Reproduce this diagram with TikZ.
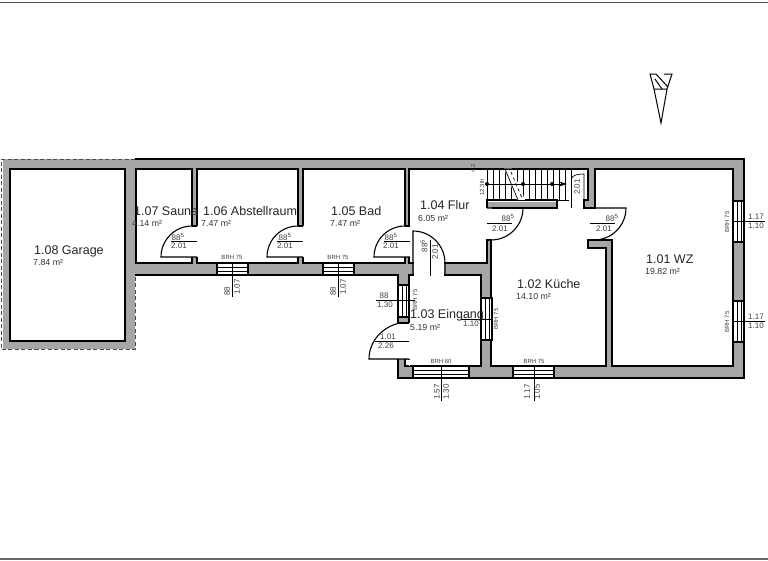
\documentclass[tikz,border=0pt]{standalone}
\usepackage{fontspec}
\setmainfont{Liberation Sans}
\usetikzlibrary{arrows.meta}
\definecolor{wallgrey}{HTML}{A6A6A6}
\tikzset{
    wall/.style={line width=1.1pt, draw=black},
    thinline/.style={line width=0.7pt, draw=black},
    room/.style={anchor=west, inner sep=0pt, text=black!85, font=\fontsize{12.5}{14}\selectfont},
    area/.style={anchor=west, inner sep=0pt, text=black!80, font=\fontsize{8.8}{10}\selectfont},
    dimtext/.style={inner sep=0pt, text=black!75, font=\fontsize{8}{9}\selectfont},
    brh/.style={inner sep=0pt, text=black!75, font=\fontsize{6}{7}\selectfont},
}
\begin{document}
\begin{tikzpicture}[x=1pt, y=-1pt]
    \useasboundingbox (0,0) rectangle (768,560);

    % Page rules at the top and the bottom
    \fill[black!70] (0,1.5) rectangle (768,3);
    \fill[black!60] (0,558) rectangle (768,560);

    % Walls of the whole floor
    \fill[wallgrey] (3,159) -- (744,159) -- (744,378) -- (398,378) -- (398,275) -- (135,275) -- (135,349) -- (3,349) -- cycle;
    \draw[wall] (135,159) -- (744,159) -- (744,378) -- (398,378) -- (398,275) -- (135,275);
    \draw[line width=0.8pt, black!70, dash pattern=on 4pt off 2.5pt] (135,159) -- (1,159) -- (1,349) -- (135,349) -- (135,275);

    % Rooms
    \foreach \a/\b/\c/\d in {10/169/125/341, 136/169/192/263, 197/169/298/263, 303/169/405/263, 409/275/481/366} {
        \draw[wall, fill=white] (\a,\b) rectangle (\c,\d);
    }
    \draw[wall, fill=white] (409,169) -- (588,169) -- (588,200) -- (584,200) -- (584,208) -- (595,208) -- (595,169)
        -- (733,169) -- (733,366) -- (612,366) -- (612,240) -- (588,240) -- (588,248) -- (606,248) -- (606,366)
        -- (491,366) -- (491,240) -- (487,240) -- (487,263) -- (409,263) -- cycle;

    % Stairs
    \fill[wallgrey] (487,202) rectangle (557,208);
    \draw[wall] (487,208) -- (487,200) -- (557,200) -- (557,208) -- (492,208);
    \foreach \x in {487,493,...,569} {
        \draw[line width=0.9pt] (\x,169) -- (\x,200);
    }
    \fill[white] (504,168.5) -- (512,168.5) -- (525,200) -- (517,200) -- cycle;
    \draw[thinline] (505,169) -- (518,200);
    \draw[thinline, dashed] (511,172) -- (522,198);
    \draw[thinline] (487,169) -- (569,169);
    \draw[thinline] (487,200) -- (569,200);
    \draw[thinline, -{Stealth[length=8pt,width=5pt]}] (487,184) -- (567,184);
    \foreach \x in {487,523,552} {
        \fill (\x,184) circle (2pt);
    }
    \draw[thinline] (571,169) -- (571,208);
    \draw[thinline] (584,200) -- (584,174) .. controls (577,174) and (573,175) .. (571,179);

    % Doors between the rooms along the corridor
    \foreach \x in {192,298,405} {
        \fill[white] ({\x-0.8},226) rectangle ({\x+5.8},257);
        \draw[wall] (\x,226) -- ({\x+5},226);
        \draw[wall] ({\x+5},257) -- (\x,257) -- ({\x-31},257) arc[start angle=180, end angle=90, radius=31pt];
        \draw[thinline] ({\x-21},241) -- ({\x+5},241);
    }

    % Door from the Flur to the Eingang
    \fill[white] (413.6,262) rectangle (444.4,276);
    \draw[wall] (445,275) -- (445,263) arc[start angle=0, end angle=90, radius=32pt] -- (413,275);
    \draw[thinline] (430,240) -- (430,276);

    % Doors into the Kueche and the WZ
    \foreach \x/\y in {491/487, 594/590} {
        \draw[wall] (\y,208) -- ({\x+32},208) arc[start angle=0, end angle=-90, radius=32pt];
        \draw[thinline] (\y,223) -- ({\y+25},223);
    }

    % Entrance door
    \fill[white] (397,323) rectangle (410,359);
    \draw[wall] (398,323) -- (409,323);
    \draw[wall] (409,359) -- (369,359) arc[start angle=180, end angle=100, x radius=40pt, y radius=37pt];
    \fill[white] (405,359.6) rectangle (410,366);
    \draw[wall] (405,359) -- (405,366) -- (409,366);
    \draw[thinline] (375,341) -- (409,341);

    % Windows in horizontal walls
    \foreach \a/\c/\b in {217/248/263, 323/354/263, 413/469/366, 513/554/366} {
        \draw[wall, fill=white] (\a,\b) rectangle (\c,\b+12);
        \draw[thinline] (\a,\b+4) -- (\c,\b+4);
        \draw[thinline] (\a,\b+8) -- (\c,\b+8);
    }
    % Windows in vertical walls
    \foreach \a/\b/\d in {398/285/317, 481/298/340, 733/201/242, 733/301/342} {
        \draw[wall, fill=white] (\a,\b) rectangle (\a+11,\d);
        \draw[thinline] (\a+4,\b) -- (\a+4,\d);
        \draw[thinline] (\a+8,\b) -- (\a+8,\d);
    }
    % Measuring lines of the windows
    \foreach \x/\a/\b in {232/263/297, 338/263/297, 441/366/401, 534/366/401} {
        \draw[thinline] (\x,\a) -- (\x,\b);
    }
    \foreach \y/\a/\b in {300/376/415, 319/461/491, 221/733/765, 321/733/765} {
        \draw[thinline] (\a,\y) -- (\b,\y);
    }

    % Room names and areas
    \foreach \x/\y/\name/\label in {34/251/garage/1.08 Garage, 134/211/sauna/1.07 Sauna, 203/211/abstell/1.06 Abstellraum,
        331/211/bad/1.05 Bad, 420/205/flur/1.04 Flur, 410/315/eingang/1.03 Eingang, 517/284/kueche/1.02 Küche, 646/259/wz/1.01 WZ} {
        \node[room] (\name) at (\x,\y) {\label};
    }
    \foreach \x/\y/\name/\label in {33/262/agarage/7.84, 132/223/asauna/4.14, 201/223/aabstell/7.47, 330/223/abad/7.47,
        418/218/aflur/6.05, 410/327/aeingang/5.19, 516/296/akueche/14.10, 645/271/awz/19.82} {
        \node[area] (\name) at (\x,\y) {\label{} m²};
    }

    % Door measures
    \foreach \x/\y/\name/\label in {178/237/da/88\textsuperscript{5}, 179/246/db/2.01, 285/237/dc/88\textsuperscript{5}, 285/246/dd/2.01,
        391/237/de/88\textsuperscript{5}, 391/246/df/2.01, 508/218/dg/88\textsuperscript{5}, 500/229/dh/2.01,
        612/218/di/88\textsuperscript{5}, 604/229/dj/2.01, 388/337/dk/1.01, 386/346/dl/2.26,
        384/296/dm/88, 385/305/dn/1.30, 471/324/do/1.10, 756/217/dp/1.17, 756/226/dq/1.10, 756/317/dr/1.17, 756/326/ds/1.10} {
        \node[dimtext] (\name) at (\x,\y) {\label};
    }
    \foreach \x/\y/\name/\label in {424/246/ra/88\textsuperscript{5}, 435/252/rb/2.01, 227/291/rc/88, 237/287/rd/1.07, 333/291/re/88, 343/287/rf/1.07,
        437/392/rg/1.57, 446/392/rh/1.30, 527/392/ri/1.17, 537/392/rj/1.05, 577/187/rk/2.01} {
        \node[dimtext, rotate=90] (\name) at (\x,\y) {\label};
    }

    % Sill heights
    \foreach \x/\y/\name/\label in {232/257/ba/BRH 75, 338/257/bb/BRH 75, 441/361/bc/BRH 60, 534/361/bd/BRH 75} {
        \node[brh] (\name) at (\x,\y) {\label};
    }
    \foreach \x/\y/\name/\label in {415/300/be/BRH 75, 496/319/bf/BRH 75, 727/222/bg/BRH 75, 727/322/bh/BRH 75,
        473/168/bi/4.2 /0.1, 482/187/bj/12.3th} {
        \node[brh, rotate=90] (\name) at (\x,\y) {\label};
    }

    % North arrow
    \draw[line width=1pt, line join=miter] (654,89) -- (667,89) -- (661,123) -- cycle;
    \draw[line width=1pt] (654,89) -- (650,74) -- (656,74) -- (668,87);
    \draw[line width=1pt] (655,79) -- (662,89);
    \draw[line width=1pt] (667,89) -- (672,74) -- (664,74);
\end{tikzpicture}
\end{document}
